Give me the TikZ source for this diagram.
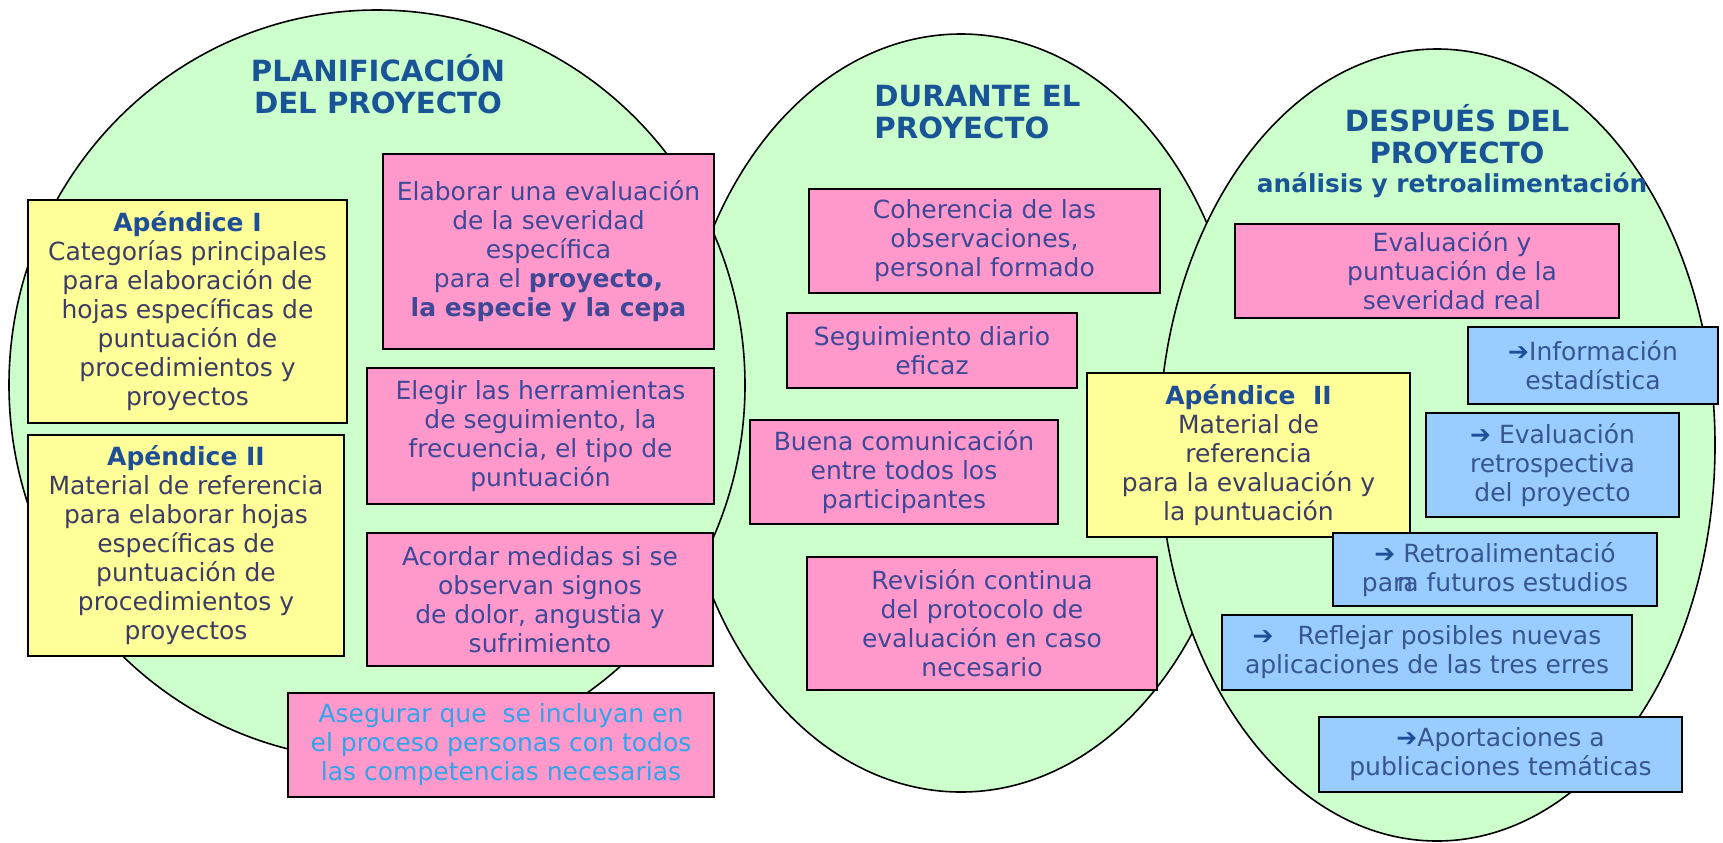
\documentclass[tikz,border=0pt]{standalone}
\usepackage{fontspec}
\setmainfont{DejaVu Sans}
\usepackage{tikz}
\usetikzlibrary{shapes.geometric}
\definecolor{fasegreen}{HTML}{CCFFCC}
\definecolor{pinkfill}{HTML}{FF99CC}
\definecolor{yellowfill}{HTML}{FFFF99}
\definecolor{bluefill}{HTML}{99CCFF}
\definecolor{titleblue}{RGB}{25,85,150}
\definecolor{pinktext}{RGB}{62,72,150}
\definecolor{yellowtext}{RGB}{60,60,100}
\definecolor{headblue}{RGB}{30,78,150}
\definecolor{bluetext}{RGB}{55,85,145}
\definecolor{cyantext}{RGB}{51,163,232}
\tikzset{fase/.style={ellipse,draw,fill=fasegreen,line width=0.8pt,inner sep=0pt,outer sep=0pt}}
\tikzset{titulo/.style={text=titleblue,align=center,inner sep=0pt,font=\bfseries\fontsize{14.6}{16}\selectfont}}
\tikzset{subtitulo/.style={text=titleblue,inner sep=0pt,font=\bfseries\fontsize{12.4}{14}\selectfont}}
\tikzset{caja/.style={draw,line width=0.8pt,align=center,inner sep=1pt,outer sep=0pt,font=\fontsize{12.5}{14.5}\selectfont}}
\tikzset{pinkbox/.style={caja,fill=pinkfill,text=pinktext}}
\tikzset{yellowbox/.style={caja,fill=yellowfill,text=yellowtext}}
\tikzset{bluebox/.style={caja,fill=bluefill,text=bluetext}}
\newcommand{\apx}[1]{\textcolor{headblue}{\bfseries #1}}
\newcommand{\flecha}{\textcolor{headblue}{➔}}
\newcommand{\sangria}{\hspace*{25pt}}

\begin{document}
\begin{tikzpicture}[x=0.5pt,y=-0.5pt]
    \useasboundingbox (0,0) rectangle (1723,842);
    % fases
    \node[fase,minimum width=284pt,minimum height=379pt] (F2) at (961,413) {};
    \node[fase,minimum width=368pt,minimum height=375pt] (F1) at (377,385) {};
    \node[fase,minimum width=278pt,minimum height=396pt] (F3) at (1437,445) {};

    \node[titulo,anchor=base] (T1) at (378,113) {PLANIFICACIÓN\\DEL PROYECTO};
    \node[titulo,anchor=base west,align=left] (T2) at (874,138) {DURANTE EL\\PROYECTO};
    \node[titulo,anchor=base] (T3) at (1457,163) {DESPUÉS DEL\\PROYECTO};
    \node[subtitulo,anchor=base] (T3b) at (1452,192) {análisis y retroalimentación};

    % planificacion
    \node[yellowbox,minimum width=159.5pt,minimum height=111.5pt] (A1) at (187.5,311.5) {\apx{Apéndice I}\\Categorías principales\\para elaboración de\\hojas específicas de\\puntuación de\\procedimientos y\\proyectos};
    \node[yellowbox,minimum width=158pt,minimum height=110.5pt] (A2) at (186,545.5) {\apx{Apéndice II}\\Material de referencia\\para elaborar hojas\\específicas de\\puntuación de\\procedimientos y\\proyectos};
    \node[pinkbox,minimum width=165.5pt,minimum height=97.5pt] (P1) at (548.5,251.5) {Elaborar una evaluación\\de la severidad\\específica\\para el \textbf{proyecto,}\\\textbf{la especie y la cepa}};
    \node[pinkbox,minimum width=173.5pt,minimum height=68pt] (P2) at (540.5,436) {Elegir las herramientas\\de seguimiento, la\\frecuencia, el tipo de\\puntuación};
    \node[pinkbox,minimum width=173pt,minimum height=66.5pt] (P3) at (540,599.5) {Acordar medidas si se\\observan signos\\de dolor, angustia y\\sufrimiento};
    \node[pinkbox,text=cyantext,minimum width=213pt,minimum height=52pt] (P4) at (501,745) {Asegurar que\ \ se incluyan en\\el proceso personas con todos\\las competencias necesarias};

    % durante
    \node[pinkbox,minimum width=175.5pt,minimum height=52pt] (D1) at (984.5,241) {Coherencia de las\\observaciones,\\personal formado};
    \node[pinkbox,minimum width=145pt,minimum height=37.5pt] (D2) at (932,350.5) {Seguimiento diario\\eficaz};
    \node[pinkbox,minimum width=154pt,minimum height=52pt] (D3) at (904,472) {Buena comunicación\\entre todos los\\participantes};
    \node[pinkbox,minimum width=175pt,minimum height=66.5pt] (D4) at (982,623.5) {Revisión continua\\del protocolo de\\evaluación en caso\\necesario};

    % despues
    \node[pinkbox,minimum width=192pt,minimum height=47pt] (R1) at (1427,271) {\sangria Evaluación y\\\sangria puntuación de la\\\sangria severidad real};
    \node[bluebox,minimum width=125pt,minimum height=38.5pt] (R2) at (1593,365.5) {\flecha Información\\estadística};
    \node[yellowbox,minimum width=161.5pt,minimum height=82pt] (A3) at (1248.5,455) {\apx{Apéndice\ \ II}\\Material de\\referencia\\para la evaluación y\\la puntuación};
    \node[bluebox,minimum width=126.5pt,minimum height=52pt] (R3) at (1552.5,465) {\flecha\ Evaluación\\retrospectiva\\del proyecto};
    \node[bluebox,minimum width=162pt,minimum height=36.5pt] (R4) at (1495,569.5) {\flecha\ Retroalimentació\\pa\rlap{\kern2pt n}ra futuros estudios};
    \node[bluebox,minimum width=205pt,minimum height=37.5pt] (R5) at (1427,652.5) {\flecha\ \ \ Reflejar posibles nuevas\\aplicaciones de las tres erres};
    \node[bluebox,minimum width=181.5pt,minimum height=37.5pt] (R6) at (1500.5,754.5) {\flecha Aportaciones a\\publicaciones temáticas};
\end{tikzpicture}
\end{document}
